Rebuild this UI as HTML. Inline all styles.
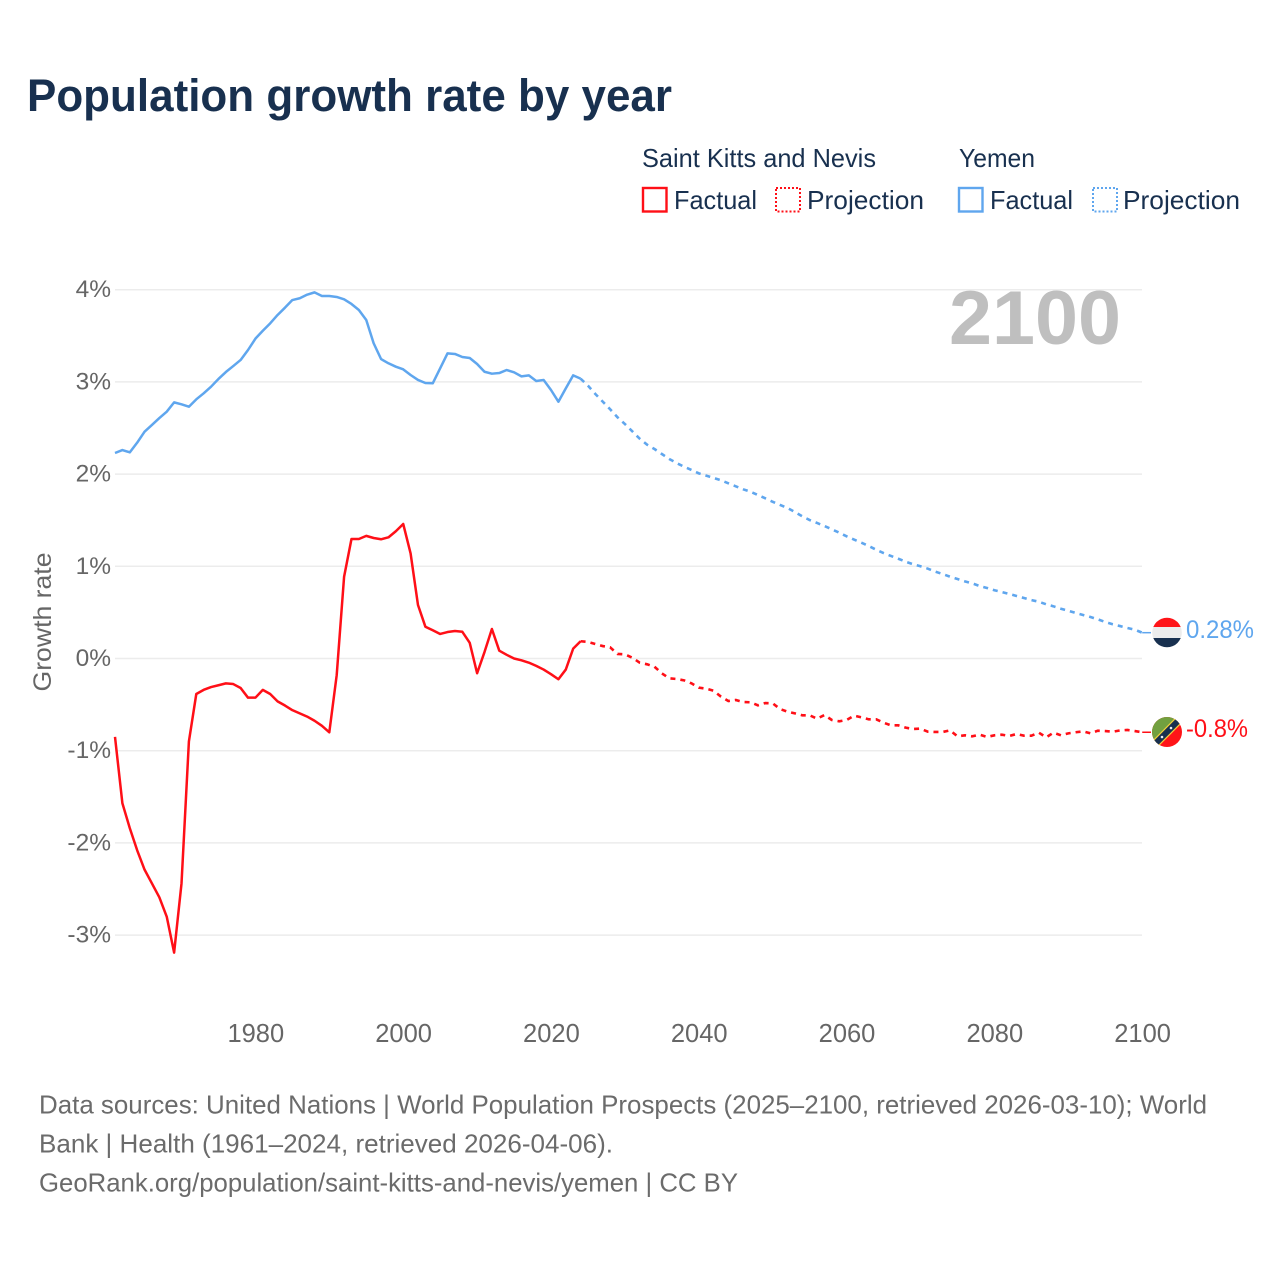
<!DOCTYPE html>
<html lang="en">
<head>
<meta charset="utf-8">
<title>Population growth rate by year</title>
<style>
html,body{margin:0;padding:0;background:#fff;width:1280px;height:1280px;overflow:hidden}
svg{display:block}
text{font-family:"Liberation Sans",sans-serif}
</style>
</head>
<body>
<svg id="chart" xmlns="http://www.w3.org/2000/svg" width="1280" height="1280" viewBox="0 0 1280 1280">
  <rect x="0" y="0" width="1280" height="1280" fill="#fff"/>
  <text x="27" y="111" font-size="45" font-weight="700" fill="#18304f" textLength="645" lengthAdjust="spacingAndGlyphs">Population growth rate by year</text>

  <g font-size="26" fill="#18304f">
    <text x="642" y="167" textLength="234" lengthAdjust="spacingAndGlyphs">Saint Kitts and Nevis</text>
    <text x="959" y="167" textLength="76" lengthAdjust="spacingAndGlyphs">Yemen</text>
    <g>
      <rect x="643" y="188" width="23.500" height="23.500" fill="none" stroke="#ff0f17" stroke-width="2.400"/>
      <text x="674" y="209" textLength="83" lengthAdjust="spacingAndGlyphs">Factual</text>
    </g>
    <g>
      <rect x="776" y="188" width="24" height="23.500" fill="none" stroke="#ff0f17" stroke-width="2" stroke-dasharray="2 2"/>
      <text x="807" y="209" textLength="117" lengthAdjust="spacingAndGlyphs">Projection</text>
    </g>
    <g>
      <rect x="959" y="188" width="23.500" height="23.500" fill="none" stroke="#5fa6ee" stroke-width="2.400"/>
      <text x="990" y="209" textLength="83" lengthAdjust="spacingAndGlyphs">Factual</text>
    </g>
    <g>
      <rect x="1093" y="188" width="24" height="23.500" fill="none" stroke="#5fa6ee" stroke-width="2" stroke-dasharray="2 2"/>
      <text x="1123" y="209" textLength="117" lengthAdjust="spacingAndGlyphs">Projection</text>
    </g>
  </g>

  <g id="grid"></g>
  <text x="949" y="344" font-size="76" font-weight="700" fill="#bfbfbf" textLength="172" lengthAdjust="spacingAndGlyphs">2100</text>
  <g id="y-axis"></g>
  <g id="x-axis"></g>
  <text transform="translate(51,622) rotate(-90)" text-anchor="middle" font-size="25" fill="#666" textLength="139" lengthAdjust="spacingAndGlyphs">Growth rate</text>
  <g id="series"></g>

  <defs>
    <clipPath id="flag-clip-yemen"><circle cx="1167" cy="632.500" r="14.800"/></clipPath>
    <clipPath id="flag-clip-kitts"><circle cx="1167" cy="732" r="15"/></clipPath>
  </defs>
  <g clip-path="url(#flag-clip-yemen)">
    <rect x="1150" y="615" width="34" height="12" fill="#ff1418"/>
    <rect x="1150" y="627" width="34" height="11" fill="#ececec"/>
    <rect x="1150" y="638" width="34" height="12" fill="#18304f"/>
  </g>
  <g clip-path="url(#flag-clip-kitts)">
    <rect x="1150" y="715" width="34" height="34" fill="#ff1418"/>
    <polygon points="1150,715 1184,715 1150,749" fill="#72a03f"/>
    <line x1="1150" y1="749" x2="1184" y2="715" stroke="#f2cf3a" stroke-width="8.500"/>
    <line x1="1150" y1="749" x2="1184" y2="715" stroke="#18304f" stroke-width="6"/>
    <circle cx="1162" cy="737" r="1.300" fill="#eee"/>
    <circle cx="1171" cy="728" r="1.300" fill="#eee"/>
  </g>
  <text x="1186" y="638" font-size="25" fill="#5fa6ee" textLength="68" lengthAdjust="spacingAndGlyphs">0.28%</text>
  <text x="1186" y="737" font-size="25" fill="#ff0f17" textLength="62" lengthAdjust="spacingAndGlyphs">-0.8%</text>

  <g font-size="26" fill="#6b6b6b">
    <text x="39" y="1113.500" textLength="1168" lengthAdjust="spacingAndGlyphs">Data sources: United Nations | World Population Prospects (2025–2100, retrieved 2026-03-10); World</text>
    <text x="39" y="1152.500" textLength="574" lengthAdjust="spacingAndGlyphs">Bank | Health (1961–2024, retrieved 2026-04-06).</text>
    <text x="39" y="1191.500" textLength="699" lengthAdjust="spacingAndGlyphs">GeoRank.org/population/saint-kitts-and-nevis/yemen | CC BY</text>
  </g>
</svg>
<script>
var factualStartYear = 1961;
var projectionStartYear = 2025;
var xTicks = [1980, 2000, 2020, 2040, 2060, 2080, 2100];
var yTicks = [4, 3, 2, 1, 0, -1, -2, -3];
var kittsFactual = [-0.85,-1.57,-1.84,-2.08,-2.29,-2.44,-2.59,-2.80,-3.19,-2.44,-0.90,-0.385,-0.34,-0.31,-0.29,-0.27,-0.277,-0.32,-0.425,-0.425,-0.34,-0.385,-0.465,-0.51,-0.56,-0.595,-0.63,-0.675,-0.73,-0.80,-0.18,0.887,1.296,1.296,1.33,1.307,1.293,1.314,1.38,1.459,1.14,0.58,0.345,0.306,0.266,0.287,0.298,0.29,0.17,-0.16,0.07,0.32,0.085,0.04,0,-0.02,-0.045,-0.08,-0.12,-0.17,-0.225,-0.12,0.107,0.187];
var kittsProjection = [0.18,0.157,0.135,0.121,0.049,0.045,0.009,-0.045,-0.063,-0.089,-0.161,-0.215,-0.222,-0.237,-0.269,-0.316,-0.327,-0.349,-0.414,-0.461,-0.45,-0.472,-0.475,-0.508,-0.483,-0.486,-0.548,-0.577,-0.595,-0.616,-0.616,-0.653,-0.613,-0.667,-0.681,-0.667,-0.62,-0.638,-0.66,-0.66,-0.696,-0.725,-0.725,-0.75,-0.765,-0.761,-0.794,-0.797,-0.797,-0.779,-0.844,-0.833,-0.844,-0.826,-0.851,-0.833,-0.826,-0.84,-0.819,-0.837,-0.837,-0.804,-0.855,-0.804,-0.833,-0.812,-0.80,-0.79,-0.812,-0.783,-0.787,-0.794,-0.78,-0.775,-0.787,-0.80];
var yemenFactual = [2.229,2.261,2.236,2.341,2.46,2.533,2.608,2.677,2.778,2.757,2.731,2.811,2.876,2.948,3.032,3.107,3.172,3.238,3.346,3.469,3.555,3.635,3.726,3.805,3.888,3.907,3.946,3.971,3.932,3.932,3.921,3.896,3.845,3.78,3.671,3.419,3.248,3.202,3.165,3.136,3.075,3.021,2.988,2.985,3.147,3.31,3.303,3.27,3.259,3.194,3.11,3.089,3.096,3.129,3.104,3.06,3.071,3.01,3.021,2.912,2.785,2.93,3.071,3.035];
var yemenProjection = [2.959,2.869,2.786,2.703,2.616,2.543,2.464,2.384,2.319,2.272,2.218,2.164,2.12,2.08,2.045,2.008,1.983,1.958,1.933,1.90,1.868,1.835,1.809,1.773,1.737,1.70,1.665,1.632,1.589,1.542,1.502,1.47,1.437,1.401,1.365,1.325,1.29,1.256,1.22,1.18,1.144,1.112,1.082,1.05,1.022,1.0,0.974,0.942,0.916,0.887,0.862,0.837,0.815,0.786,0.765,0.74,0.721,0.70,0.678,0.656,0.634,0.616,0.588,0.566,0.54,0.518,0.494,0.472,0.45,0.425,0.396,0.371,0.352,0.331,0.312,0.28];

var SVG_NS = 'http://www.w3.org/2000/svg';
var RED = '#ff0f17';
var BLUE = '#5fa6ee';
function xScale(year) { return 115 + (year - 1961) * 7.39; }
function yScale(value) { return 658.5 - value * 92.2; }
function make(tag, attrs, parent) {
  var el = document.createElementNS(SVG_NS, tag);
  for (var k in attrs) { el.setAttribute(k, attrs[k]); }
  parent.appendChild(el);
  return el;
}
function pathFrom(startYear, values) {
  return values.map(function (v, i) {
    return (i ? 'L' : 'M') + xScale(startYear + i).toFixed(2) + ' ' + yScale(v).toFixed(2);
  }).join(' ');
}

var grid = document.getElementById('grid');
var yAxis = document.getElementById('y-axis');
var xAxis = document.getElementById('x-axis');
var series = document.getElementById('series');

yTicks.forEach(function (t) {
  var line = make('line', {x1: 115, x2: 1142, y1: yScale(t), y2: yScale(t), stroke: '#ececec', 'stroke-width': 1.500}, grid);
  
  
  var label = make('text', {x: 111, y: yScale(t) + 7.500, 'text-anchor': 'end', 'font-size': 24.500, fill: '#666'}, yAxis);
  label.textContent = t + '%';
  
  
});
xTicks.forEach(function (t) {
  var label = make('text', {x: xScale(t) + 0.400, y: 1042, 'text-anchor': 'middle', 'font-size': 25.500, fill: '#666'}, xAxis);
  label.textContent = String(t);
  
  
});

function drawCountry(name, color, factual, projection) {
  var lastFactualYear = factualStartYear + factual.length - 1;
  var solid = make('path', {d: pathFrom(factualStartYear, factual), fill: 'none', stroke: color, 'stroke-width': 2.500, 'stroke-linejoin': 'round'}, series);
  
  
  var joined = [factual[factual.length - 1]].concat(projection);
  var dashed = make('path', {d: pathFrom(lastFactualYear, joined), fill: 'none', stroke: color, 'stroke-width': 2.600, 'stroke-dasharray': '5 5'}, series);
  
  
  var endY = yScale(projection[projection.length - 1]);
  var lead = make('line', {x1: xScale(2100), x2: 1151, y1: endY, y2: endY, stroke: color, 'stroke-width': 1.500}, series);
  
  
}
drawCountry('saint-kitts', RED, kittsFactual, kittsProjection);
drawCountry('yemen', BLUE, yemenFactual, yemenProjection);
</script>
</body>
</html>
